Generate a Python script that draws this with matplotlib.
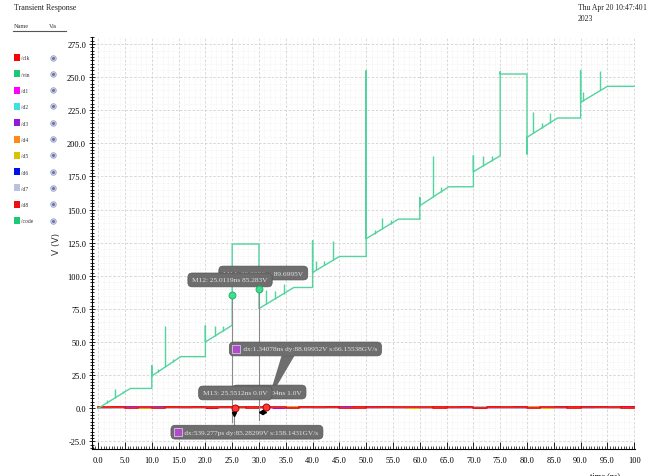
import matplotlib.pyplot as plt
from matplotlib.patches import Polygon, Rectangle
from matplotlib.ticker import MultipleLocator

SERIF = "Liberation Serif"

# /code staircase (V vs ns)
code_t = [0, 6.0, 10.0, 10.0, 10.0, 15.4, 20.0, 20.0, 20.0, 25.0, 25.0, 30.0, 30.0, 36.5,
          40.0, 40.0, 40.0, 45.0, 50.0, 50.0, 50.0, 56.0, 60.0, 60.0, 60.0, 65.4, 70.0, 70.0,
          70.0, 75.0, 75.0, 75.0, 80.0, 80.0, 80.0, 85.7, 90.0, 90.0, 90.0, 95.0, 100.0]
code_v = [0, 15, 15, 32, 24.4, 39, 39, 62.2, 50.1, 62.7, 124, 124, 75.3, 91.2,
          91.2, 126.4, 102.5, 114.6, 114.6, 254.8, 128, 142.8, 142.8, 159.1, 152.9, 167.2, 167.2, 190.6,
          178.6, 190.6, 254, 252.3, 252.3, 191.9, 204.5, 219.1, 219.1, 254.9, 230.9, 243, 243]

# glitches on the ramps
glitch_t = [1.6, 3.2, 4.7, 11.1, 12.5, 14.0, 21.8, 23.3, 31.3, 33.0, 34.6, 40.7, 42.2,
            43.8, 51.6, 53.0, 54.6, 62.4, 64.0, 71.8, 73.4, 81.2, 82.8, 84.3, 90.5, 93.7]
glitch_lo = [4.0, 8.0, 11.8, 27.4, 31.2, 35.2, 54.6, 58.4, 78.5, 82.6, 86.6, 104.2, 107.8,
             111.7, 131.9, 135.4, 139.3, 159.3, 163.5, 182.9, 186.8, 207.6, 211.7, 215.5, 232.1, 239.9]
glitch_hi = [6.3, 14.4, 13.0, 29.5, 62.5, 37.5, 62.0, 62.0, 89.4, 88.6, 93.7, 111.3, 111.0,
             126.4, 134.7, 143.3, 142.3, 190.6, 167.2, 190.6, 190.6, 223.4, 215.0, 222.9, 238.5, 254.9]

vin_t = [0, 100]
vin_v = [0, 1.0]

# digital nets, one bit per 2.5 ns
bit_step = 2.5
clk_bits = "0101010101010101010101010101010101010101"
d1_bits = "0011001100110011001100110011001100110011"
d2_bits = "0000111100001111000011110000111100001111"
d3_bits = "0110100101101001011010010110100101101001"
d4_bits = "1001011000110101100101100011010110010110"
d5_bits = "1100000011111111000000001111111100000000"
d6_bits = "0001000010000100000000010000100001000000"
d7_bits = "0001110001110001110001110001110001110001"
d8_bits = "1101011111101101110011111011011101101110"

sig_names = ["/clk", "/vin", "/d1", "/d2", "/d3", "/d4", "/d5", "/d6", "/d7", "/d8", "/code"]
sig_colors = ["#ff0000", "#1fc872", "#ff00ff", "#3fe0e0", "#9418d8", "#ff8a1c",
              "#d8c400", "#0010e8", "#b8c2e0", "#ee1010", "#1fc872"]

x_ticks = [0, 5, 10, 15, 20, 25, 30, 35, 40, 45, 50, 55, 60, 65, 70, 75, 80, 85, 90, 95, 100]
x_labels = ["0.0", "5.0", "10.0", "15.0", "20.0", "25.0", "30.0", "35.0", "40.0", "45.0", "50.0",
            "55.0", "60.0", "65.0", "70.0", "75.0", "80.0", "85.0", "90.0", "95.0", "100"]
y_ticks = [-25, 0, 25, 50, 75, 100, 125, 150, 175, 200, 225, 250, 275]
y_labels = ["-25.0", "0.0", "25.0", "50.0", "75.0", "100.0", "125.0", "150.0",
            "175.0", "200.0", "225.0", "250.0", "275.0"]

# cursors
mk_t = [25.0119, 29.9996, 25.5512, 31.3404]
mk_v = [85.2830, 89.6995, 0.0, 1.0]
mk_text = ["M12: 25.0119ns 85.283V", "M14: 29.9996ns 89.6995V",
           "M13: 25.5512ns 0.0V", "M15: 31.3404ns 1.0V"]
dx_text = ["dx:1.34078ns dy:88.69952V s:66.15538GV/s",
           "dx:539.277ps dy:85.28299V s:158.1431GV/s"]

fig = plt.figure(figsize=(6.54, 4.77), dpi=100)

# header / name list in pixel coordinates
lax = fig.add_axes([0, 0, 1, 1])
lax.set_xlim(0, 654)
lax.set_ylim(477, 0)
lax.axis("off")
lax.text(14, 8, "Transient Response", fontsize=5.8, family=SERIF, va="center", color="#222222")
lax.text(14, 26, "Name", fontsize=4.5, family=SERIF, va="center", color="#333333")
lax.text(49, 26, "Vis", fontsize=4.5, family=SERIF, va="center", color="#333333")
lax.plot([13, 66], [32, 32], color="#555555", lw=0.8)
lax.text(578, 8, "Thu Apr 20 10:47:40", fontsize=5.5, family=SERIF, va="center", color="#222222")
lax.text(578, 19, "2023", fontsize=5.5, family=SERIF, va="center", color="#222222")
lax.text(642, 8, "1", fontsize=5.5, family=SERIF, va="center", color="#222222")
for i, (name, col) in enumerate(zip(sig_names, sig_colors)):
    yc = 58.5 + i * 16.3
    lax.add_patch(Rectangle((14, yc - 3.5), 6, 7, color=col, lw=0))
    lax.text(21, yc + 0.5, name, fontsize=4, family=SERIF, va="center", color="#333333")
    lax.plot(53, yc, "o", ms=4, mfc="#d4d8ee", mec="#9aa2c8", mew=0.6)
    lax.plot(53, yc, "o", ms=1.2, color="#6a72a8")

ax = fig.add_axes([0.1411, 0.0566, 0.8303, 0.8631])
ax.set_xlim(-1.1, 100.2)
ax.set_ylim(-30.7, 280.0)
for side in ["top", "right"]:
    ax.spines[side].set_visible(False)
ax.spines["left"].set_linewidth(0.8)
ax.spines["bottom"].set_linewidth(0.8)

ax.set_xticks(x_ticks)
ax.set_xticklabels(x_labels, family=SERIF, fontsize=6)
ax.set_yticks(y_ticks)
ax.set_yticklabels(y_labels, family=SERIF, fontsize=6)
ax.xaxis.set_minor_locator(MultipleLocator(0.5))
ax.yaxis.set_minor_locator(MultipleLocator(2.5))
ax.tick_params(axis="x", which="major", direction="in", length=5, width=0.6, pad=5)
ax.tick_params(axis="x", which="minor", direction="in", length=2.5, width=0.5)
ax.tick_params(axis="y", which="major", direction="inout", length=5, width=0.6, pad=2)
ax.tick_params(axis="y", which="minor", direction="inout", length=2.5, width=0.6)

# grid: dashed majors, dotted fine lines
for xv in range(0, 101):
    if xv % 5 == 0:
        ax.axvline(xv, color="#d2d2d2", lw=0.6, ls=(0, (3, 2)), zorder=0)
    else:
        ax.axvline(xv, color="#ececec", lw=0.5, ls=(0, (1, 1.5)), zorder=0)
for yv in range(-25, 280, 5):
    if yv % 25 == 0:
        ax.axhline(yv, color="#d2d2d2", lw=0.6, ls=(0, (3, 2)), zorder=0)
    else:
        ax.axhline(yv, color="#ececec", lw=0.5, ls=(0, (1, 1.5)), zorder=0)

ax.set_ylabel("V (V)", fontsize=6.5, labelpad=4, color="#333333")
fig.text(605 / 654, 0.002, "time (ns)", fontsize=6, family=SERIF, ha="center", va="center")

# digital band around 0 V
ax.plot(vin_t, vin_v, color=sig_colors[1], lw=1.0, zorder=2)
bit_rows = [(d7_bits, 7), (d2_bits, 3), (d1_bits, 2), (d4_bits, 5), (d3_bits, 4),
            (d5_bits, 6), (clk_bits, 0), (d6_bits, 8), (d8_bits, 9)]
for bits, ci in bit_rows:
    ts = [k * bit_step for k in range(len(bits) + 1)]
    vs = [int(b) * 1.0 for b in bits] + [int(bits[-1]) * 1.0]
    ax.step(ts, vs, where="post", color=sig_colors[ci], lw=1.2, zorder=3)

code_col = "#52d49e"
ax.plot(code_t, code_v, color=code_col, lw=1.0, zorder=4)
ax.vlines(glitch_t, glitch_lo, glitch_hi, color=code_col, lw=1.0, zorder=4)

# cursor drop lines and callouts
ax.plot([mk_t[0], mk_t[0]], [mk_v[0], -10], color="#8a8a8a", lw=0.8, zorder=5)
ax.plot([mk_t[1], mk_t[1]], [mk_v[1], -8.5], color="#8a8a8a", lw=0.8, zorder=5)
ax.plot([mk_t[2] - 0.3, mk_t[2] - 0.3], [0, -14], color="#8a8a8a", lw=0.8, zorder=5)
ax.add_patch(Polygon([[34.2, 39.5], [36.6, 39.5], [31.6, 5.0]], closed=True,
                     fc="#6e6e6e", ec="none", zorder=6))

box = dict(boxstyle="round,pad=0.6,rounding_size=0.6", fc="#6e6e6e", ec="#555555", lw=0.5)
tkw = dict(fontsize=5.3, family=SERIF, color="#e4e4e4", va="center")
ax.text(30.8, 102.1, mk_text[1], ha="center", bbox=box, zorder=7, **tkw)
ax.text(24.6, 96.9, mk_text[0], ha="center", bbox=box, zorder=8, **tkw)
ax.text(31.9, 12.3, mk_text[3], ha="center", bbox=box, zorder=7, **tkw)
ax.text(25.6, 11.6, mk_text[2], ha="center", bbox=box, zorder=8, **tkw)
ax.text(25.3, 44.8, "     " + dx_text[0], ha="left", bbox=box, zorder=7, **tkw)
ax.text(14.4, -18.0, "     " + dx_text[1], ha="left", bbox=box, zorder=7, **tkw)
for tx, vy in [(25.75, 44.8), (14.85, -18.0)]:
    ax.plot(tx, vy, "s", ms=5.5, mfc="#b04cc8", mec="#e0c0f0", mew=0.6, zorder=9)

ax.plot(mk_t[:2], mk_v[:2], "o", ms=5, mfc="#3ee08e", mec="#1aa862", mew=0.6, zorder=9)
ax.plot(mk_t[2:], mk_v[2:], "o", ms=5, mfc="#ff3a3a", mec="#b00000", mew=0.7, zorder=9)
ax.plot([mk_t[2] - 0.3], [-4.5], "v", ms=3, color="black", zorder=10)
ax.plot([30.3], [-2.5], "<", ms=3, color="black", zorder=10)
ax.plot([31.0], [-2.5], ">", ms=3, color="black", zorder=10)

fig.savefig("out.png", dpi=100)
